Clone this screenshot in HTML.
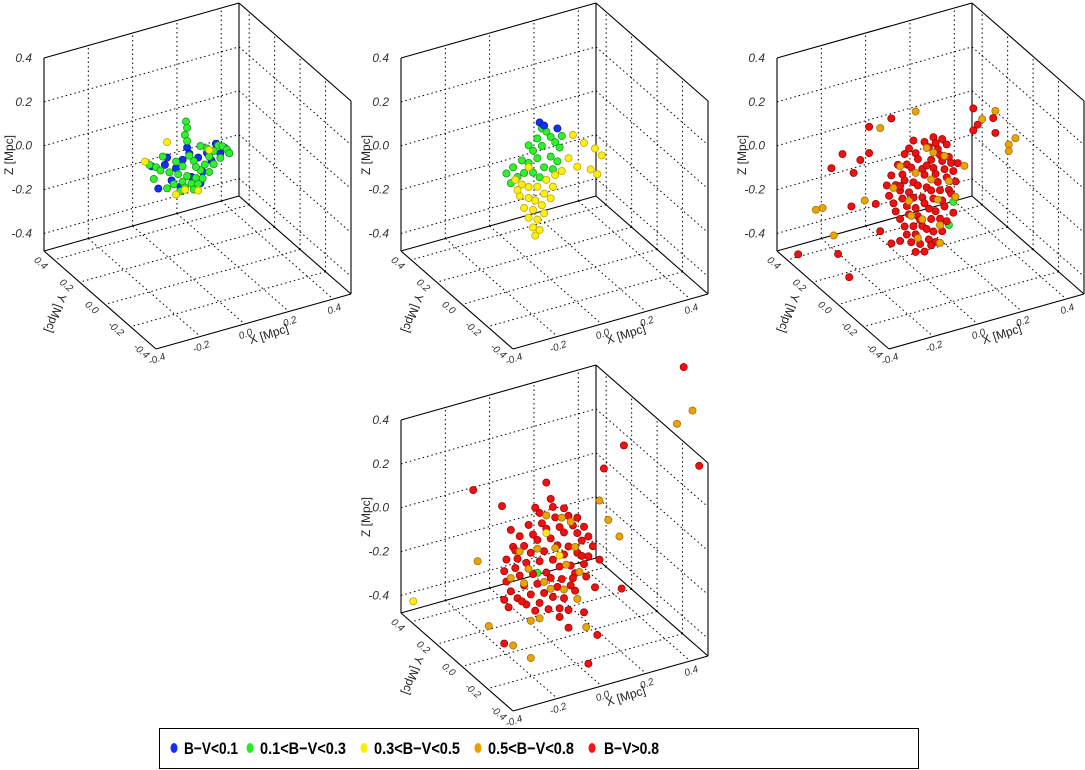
<!DOCTYPE html>
<html><head><meta charset="utf-8"><style>
html,body{margin:0;padding:0;background:#fff;}
svg{display:block;font-family:"Liberation Sans",sans-serif;}
</style></head><body>
<svg id="chart" width="1085" height="770" viewBox="0 0 1085 770" xmlns="http://www.w3.org/2000/svg">
<g id="panels"></g>
<g>
<rect x="159.5" y="728.5" width="759" height="40" fill="#fff" stroke="#000" stroke-width="1"/>
<g font-size="17" font-weight="bold" fill="#000">
<g><ellipse cx="174" cy="748" rx="3.5" ry="5" fill="#1030ff"/><text x="184" y="754" textLength="54" lengthAdjust="spacingAndGlyphs">B−V&lt;0.1</text></g>
<g><ellipse cx="250" cy="748" rx="3.5" ry="5" fill="#22ee22"/><text x="260" y="754" textLength="86" lengthAdjust="spacingAndGlyphs">0.1&lt;B−V&lt;0.3</text></g>
<g><ellipse cx="364" cy="748" rx="3.5" ry="5" fill="#ffee00"/><text x="374" y="754" textLength="86" lengthAdjust="spacingAndGlyphs">0.3&lt;B−V&lt;0.5</text></g>
<g><ellipse cx="478" cy="748" rx="3.5" ry="5" fill="#e8a000"/><text x="488" y="754" textLength="86" lengthAdjust="spacingAndGlyphs">0.5&lt;B−V&lt;0.8</text></g>
<g><ellipse cx="592" cy="748" rx="3.5" ry="5" fill="#ff1010"/><text x="604" y="754" textLength="55" lengthAdjust="spacingAndGlyphs">B−V&gt;0.8</text></g>
</g></g>
</svg>
<script>
// ---- data: [x, y, z] in Mpc ----
const zTicks = [0.4, 0.2, 0.0, -0.2, -0.4];
const xTicks = [-0.4, -0.2, 0.0, 0.2, 0.4];
const yTicks = [0.4, 0.2, 0.0, -0.2, -0.4];
const panelOffsets = [[0,0],[357,0],[733,0],[357,362]];

const p1Green = [[-0.035,0,0.25],[-0.03,0,0.22],[-0.04,0,0.19],[-0.03,0,0.16],[-0.2,0,0.1],[-0.17,0,0.08],[-0.14,0,0.12],[-0.15,0,0.06],[-0.11,0,0.04],[-0.08,0,0.08],[-0.07,0,0.02],[-0.05,0,-0.02],[-0.03,0,0.0],[-0.01,0,-0.04],[0.01,0,-0.02],[0.03,0,0.01],[-0.04,0,-0.05],[0.0,0,-0.07],[-0.06,0,-0.06],[0.02,0,-0.05],[0.04,0,-0.03],[0.05,0,0.03],[0.07,0,0.06],[0.09,0,0.08],[0.11,0,0.1],[0.13,0,0.09],[0.15,0,0.07],[0.16,0,0.05],[0.06,0,0.1],[0.03,0,0.12],[0.0,0,0.06],[-0.02,0,0.09],[-0.09,0,-0.02],[-0.12,0,-0.03],[0.07,0,-0.01],[0.09,0,0.02],[-0.05,0,0.05],[0.12,0,0.04],[-0.18,0,0.03],[0.01,0,0.03]];
const p1Blue = [[-0.03,0,0.13],[-0.02,0,0.1],[-0.19,0,0.09],[-0.13,0,0.08],[-0.08,0,0.05],[-0.05,0,0.08],[0.02,0,0.07],[0.06,0,0.08],[0.1,0,0.11],[0.14,0,0.08],[0.16,0,0.05],[0.04,0,0.0],[-0.01,0,-0.01],[-0.1,0,0.0],[-0.16,0,-0.02],[0.08,0,0.04],[0.03,0,-0.05],[-0.06,0,-0.04],[0.12,0,0.06],[-0.12,0,0.11]];
const p1Yellow = [[-0.22,0,0.12],[-0.12,0,0.18],[-0.04,0,-0.06],[0.02,0,-0.08],[0.07,0,0.09],[-0.08,0,-0.07]];

const p2Blue = [[-0.05,0,0.25],[-0.03,0,0.23],[0.03,0,0.2]];
const p2Green = [[-0.04,0,0.22],[-0.02,0,0.2],[-0.06,0,0.18],[0.0,0,0.17],[-0.1,0,0.16],[-0.08,0,0.13],[-0.04,0,0.14],[0.02,0,0.14],[0.04,0,0.11],[-0.13,0,0.1],[-0.17,0,0.08],[-0.2,0,0.06],[-0.1,0,0.08],[-0.06,0,0.09],[0.0,0,0.08],[0.03,0,0.05],[-0.15,0,0.03],[-0.12,0,0.04],[-0.08,0,0.03],[-0.03,0,0.04],[-0.18,0,0.01],[0.05,0,0.16],[0.01,0,0.02],[-0.05,0,0.0]];
const p2Yellow = [[-0.16,0,0.02],[-0.13,0,-0.01],[-0.1,0,-0.03],[-0.06,0,-0.04],[-0.02,0,-0.02],[0.02,0,-0.01],[0.05,0,0.0],[-0.14,0,-0.06],[-0.1,0,-0.08],[-0.07,0,-0.1],[-0.03,0,-0.08],[0.01,0,-0.06],[-0.12,0,-0.12],[-0.08,0,-0.14],[-0.04,0,-0.13],[0.0,0,-0.11],[-0.1,0,-0.17],[-0.06,0,-0.19],[-0.03,0,-0.17],[-0.08,0,-0.22],[-0.05,0,-0.24],[-0.07,0,-0.26],[0.1,0,0.15],[0.15,0,0.1],[0.2,0,0.06],[0.23,0,0.02],[0.18,0,-0.03],[0.12,0,0.0],[0.21,0,-0.06],[0.08,0,0.05],[-0.1,0,0.06],[-0.15,0,-0.03]];

const p3Green = [[0.12,0,-0.16],[0.1,0,-0.26]];
const p3Orange = [[-0.42,0,-0.16],[-0.5,0,-0.02],[-0.47,0,-0.02],[-0.21,0,0.27],[-0.05,0,0.3],[0.31,0,0.2],[0.25,0,0.18],[0.4,0,0.05],[0.37,0,0.03],[0.37,0,0.0],[-0.28,0,-0.04],[0.13,0,-0.14],[0.17,0,-0.01],[-0.05,0,0.02],[0.02,0,-0.03],[-0.08,0,-0.1],[0.05,0,-0.13],[-0.02,0,-0.2],[0.08,0,0.06],[-0.12,0,0.07],[0.0,0,0.12],[-0.04,0,-0.28],[0.06,0,-0.25],[0.1,0,-0.06],[-0.15,0,-0.02],[0.03,0,0.09],[-0.07,0,-0.17],[0.06,0,-0.33]];
const p3Red = [[-0.58,0,-0.2],[-0.4,0,-0.25],[-0.35,0,-0.37],[-0.43,0,0.15],[-0.38,0,0.2],[-0.33,0,0.1],[-0.3,0,0.15],[-0.26,0,0.17],[-0.16,0,0.3],[-0.26,0,0.29],[0.21,0,0.24],[0.3,0,0.17],[0.31,0,0.1],[0.23,0,0.16],[0.21,0,0.14],[-0.34,0,-0.05],[-0.23,0,-0.07],[-0.21,0,-0.2],[-0.16,0,-0.27],[-0.12,0,-0.27],[0.12,0,-0.21],[0.14,0,0.01],
[-0.06,0,0.17],[-0.01,0,0.15],[0.03,0,0.16],[0.07,0,0.14],[-0.1,0,0.12],[-0.05,0,0.11],[0.01,0,0.12],[0.05,0,0.1],[0.09,0,0.11],[-0.13,0,0.08],[-0.09,0,0.07],[-0.04,0,0.08],[0.02,0,0.06],[0.06,0,0.07],[0.1,0,0.05],[-0.16,0,0.04],[-0.11,0,0.03],[-0.07,0,0.05],[-0.02,0,0.03],[0.03,0,0.02],[0.07,0,0.04],[0.11,0,0.02],[-0.18,0,0.0],[-0.14,0,-0.01],[-0.1,0,0.0],[-0.06,0,-0.02],[-0.01,0,0.0],[0.04,0,-0.01],[0.08,0,0.0],[0.12,0,-0.02],[-0.17,0,-0.05],[-0.12,0,-0.04],[-0.08,0,-0.06],[-0.04,0,-0.04],[0.0,0,-0.06],[0.05,0,-0.05],[0.09,0,-0.04],[0.13,0,-0.07],[-0.15,0,-0.09],[-0.11,0,-0.08],[-0.06,0,-0.09],[-0.02,0,-0.1],[0.02,0,-0.08],[0.06,0,-0.09],[0.1,0,-0.1],[-0.14,0,-0.13],[-0.09,0,-0.12],[-0.05,0,-0.14],[-0.01,0,-0.13],[0.03,0,-0.12],[0.07,0,-0.14],[0.11,0,-0.12],[-0.12,0,-0.17],[-0.08,0,-0.16],[-0.04,0,-0.18],[0.01,0,-0.16],[0.04,0,-0.18],[0.08,0,-0.17],[-0.1,0,-0.21],[-0.06,0,-0.22],[-0.02,0,-0.23],[0.02,0,-0.21],[0.06,0,-0.22],[-0.09,0,-0.25],[-0.05,0,-0.26],[0.0,0,-0.25],[0.03,0,-0.27],[0.07,0,-0.28],[-0.07,0,-0.29],[-0.03,0,-0.31],[0.01,0,-0.3],[0.04,0,-0.32],[-0.05,0,-0.34],[-0.01,0,-0.35],[0.02,0,-0.33],[-0.08,0,0.14],[0.04,0,0.13],[-0.12,0,-0.02],[0.0,0,0.04],[-0.03,0,-0.2],[0.09,0,-0.24]];

const p4Yellow = [[-0.62,0,-0.12],[-0.02,0,0.02],[0.04,0,-0.1]];
const p4Green = [[-0.06,0,-0.15]];
const p4Orange = [[0.64,0,0.39],[0.57,0,0.35],[0.22,0,0.1],[0.26,0,0.0],[0.31,0,-0.09],[-0.33,0,-0.02],[-0.28,0,-0.33],[-0.17,0,-0.45],[-0.09,0,-0.53],[0.16,0,-0.46],[-0.05,0,-0.36],[-0.09,0,-0.36],[0.12,0,-0.32],[0.05,0,0.07],[0.09,0,0.04],[-0.06,0,-0.04],[0.02,0,-0.06],[-0.1,0,-0.12],[0.07,0,-0.15],[-0.03,0,-0.2],[0.11,0,-0.08],[-0.14,0,-0.03],[0.0,0,-0.24],[0.06,0,-0.26],[-0.12,0,-0.18],[0.13,0,-0.2],[-0.02,0,0.1],[-0.18,0,-0.14]];
const p4Red = [[0.6,0,0.6],[0.67,0,0.13],[0.33,0,0.32],[0.24,0,0.24],[0.32,0,-0.33],[-0.02,0,0.25],[-0.35,0,0.31],[-0.22,0,0.2],[-0.18,0,0.08],[-0.21,0,-0.43],[0.17,0,-0.63],[0.08,0,-0.44],[0.21,0,-0.51],[0.04,0,-0.38],[-0.21,0,-0.23],[-0.19,0,-0.27],[0.08,0,-0.36],[0.15,0,-0.39],[0.2,0,-0.29],[0.22,0,-0.17],
[-0.05,0,0.12],[0.01,0,0.13],[0.06,0,0.11],[-0.1,0,0.08],[-0.04,0,0.07],[0.02,0,0.08],[0.08,0,0.07],[0.12,0,0.05],[-0.14,0,0.04],[-0.08,0,0.03],[-0.02,0,0.04],[0.04,0,0.03],[0.1,0,0.02],[0.15,0,0.0],[-0.17,0,0.0],[-0.12,0,-0.01],[-0.06,0,0.0],[0.0,0,-0.01],[0.06,0,0.0],[0.12,0,-0.02],[0.17,0,-0.05],[-0.2,0,-0.05],[-0.15,0,-0.06],[-0.09,0,-0.05],[-0.03,0,-0.06],[0.03,0,-0.05],[0.08,0,-0.07],[0.14,0,-0.06],[0.19,0,-0.1],[-0.21,0,-0.1],[-0.16,0,-0.1],[-0.11,0,-0.09],[-0.05,0,-0.1],[0.01,0,-0.11],[0.06,0,-0.1],[0.12,0,-0.11],[0.17,0,-0.14],[-0.2,0,-0.15],[-0.14,0,-0.14],[-0.08,0,-0.15],[-0.02,0,-0.16],[0.04,0,-0.15],[0.09,0,-0.16],[0.15,0,-0.17],[-0.18,0,-0.2],[-0.12,0,-0.19],[-0.06,0,-0.2],[0.0,0,-0.19],[0.05,0,-0.21],[0.11,0,-0.2],[0.16,0,-0.23],[-0.15,0,-0.24],[-0.09,0,-0.24],[-0.03,0,-0.25],[0.03,0,-0.24],[0.09,0,-0.25],[-0.11,0,-0.28],[-0.05,0,-0.29],[0.01,0,-0.28],[0.06,0,-0.3],[0.11,0,-0.28],[-0.07,0,-0.32],[-0.01,0,-0.33],[0.04,0,-0.34],[-0.16,0,-0.02],[0.0,0,0.17],[-0.07,0,0.15],[0.1,0,-0.22],[-0.13,0,-0.26],[0.14,0,-0.13]];

const panelSeries = [
  [["blue",p1Blue],["green",p1Green],["yellow",p1Yellow]],
  [["green",p2Green],["blue",p2Blue],["yellow",p2Yellow]],
  [["green",p3Green],["red",p3Red],["orange",p3Orange]],
  [["green",p4Green],["red",p4Red],["orange",p4Orange],["yellow",p4Yellow]]
];
const colors = {blue:["#1030ff","#00108a"],green:["#30f030","#109010"],yellow:["#ffee10","#b0a000"],orange:["#eaa400","#9a6800"],red:["#f01010","#900000"]};

// ---- projection ----
const O=[239,196], A=[-195,55], B=[112,98], H=193;
function uOf(x){return (0.48-x)/0.88;}
function vOf(y){return (0.48-y)/0.88;}
function wOf(z){return (z+0.48)/0.88;}
function proj(off,u,v,w){return [off[0]+O[0]+A[0]*u+B[0]*v, off[1]+O[1]+A[1]*u+B[1]*v-H*w];}
const NS="http://www.w3.org/2000/svg";
function mk(tag,attrs,parent){const e=document.createElementNS(NS,tag);for(const k in attrs)e.setAttribute(k,attrs[k]);parent.appendChild(e);return e;}
const root=document.getElementById('panels');

panelOffsets.forEach((off,pi)=>{
  const g=mk('g',{},root);
  
  
  const grid=mk('g',{stroke:'#000','stroke-width':'1','stroke-dasharray':'1.5,3',fill:'none'},g);
  
  
  function line(p,q,parent){return mk('line',{x1:p[0],y1:p[1],x2:q[0],y2:q[1]},parent);}
  xTicks.forEach(t=>{const u=uOf(t); if(u<0.999){line(proj(off,u,0,0),proj(off,u,0,1),grid);line(proj(off,u,0,0),proj(off,u,1,0),grid);}});
  yTicks.forEach(t=>{const v=vOf(t); if(v<0.999){line(proj(off,0,v,0),proj(off,0,v,1),grid);line(proj(off,0,v,0),proj(off,1,v,0),grid);}});
  zTicks.forEach(t=>{const w=wOf(t); if(w<0.999){line(proj(off,1,0,w),proj(off,0,0,w),grid);line(proj(off,0,0,w),proj(off,0,1,w),grid);}});
  const box=mk('g',{stroke:'#000','stroke-width':'1.1',fill:'none'},g);
  
  
  [[[1,0,0],[1,0,1]],[[0,0,0],[0,0,1]],[[0,1,0],[0,1,1]],[[1,0,1],[0,0,1]],[[0,0,1],[0,1,1]],[[1,0,0],[0,0,0]],[[0,0,0],[0,1,0]],[[1,0,0],[1,1,0]],[[1,1,0],[0,1,0]]].forEach(e=>line(proj(off,...e[0]),proj(off,...e[1]),box));
  const lab=mk('g',{'font-size':'12',fill:'#333','font-style':'italic'},g);
  zTicks.forEach(t=>{const p=proj(off,1,0,wOf(t));const tx=mk('text',{x:p[0]-12,y:p[1]+4,'text-anchor':'end'},lab);tx.textContent=t.toFixed(1);
    
    });
  yTicks.forEach(t=>{const p=proj(off,1,vOf(t),0);const tx=mk('text',{x:p[0]-10,y:p[1]+10,'text-anchor':'end',transform:`rotate(40 ${p[0]-10} ${p[1]+10})`,'font-size':'10'},lab);tx.textContent=t.toFixed(1);
    
    });
  xTicks.forEach(t=>{const p=proj(off,uOf(t),1,0);const tx=mk('text',{x:p[0]+2,y:p[1]+13,'text-anchor':'middle',transform:`rotate(-20 ${p[0]+2} ${p[1]+13})`,'font-size':'10'},lab);tx.textContent=t.toFixed(1);
    
    });
  const at=mk('g',{'font-size':'12',fill:'#222'},g);
  const zl=mk('text',{x:off[0]+13,y:off[1]+155,'text-anchor':'middle',transform:`rotate(-90 ${off[0]+13} ${off[1]+155})`},at);zl.textContent='Z [Mpc]';
  
  
  const yl=mk('text',{x:off[0]+52,y:off[1]+312,'text-anchor':'middle',transform:`rotate(110 ${off[0]+52} ${off[1]+312})`},at);yl.textContent='Y [Mpc]';
  
  
  const xl=mk('text',{x:off[0]+270,y:off[1]+338,'text-anchor':'middle',transform:`rotate(-18 ${off[0]+270} ${off[1]+338})`},at);xl.textContent='X [Mpc]';
  
  
  const pts=mk('g',{},g);
  
  
  panelSeries[pi].forEach(([cname,arr])=>{
    arr.forEach(d=>{const p=proj(off,uOf(d[0]),vOf(d[1]),wOf(d[2]));
      const c=mk('circle',{cx:p[0].toFixed(1),cy:p[1].toFixed(1),r:3.6,fill:colors[cname][0],stroke:colors[cname][1],'stroke-width':'0.7'},pts);
      
      
    });
  });
});
</script>
</body></html>
